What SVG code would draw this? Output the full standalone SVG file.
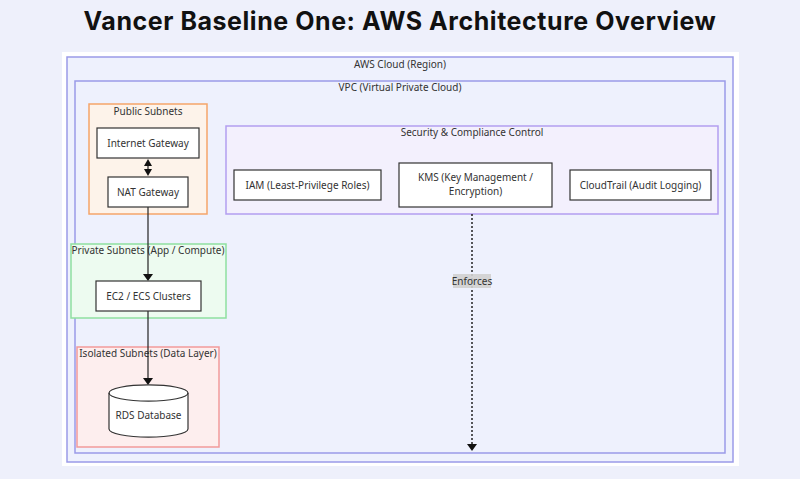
<svg xmlns="http://www.w3.org/2000/svg" width="800" height="479" viewBox="0 0 800 479">
<defs>
<style>
.title{font-family:Inter,"Liberation Sans",sans-serif;font-weight:700;font-size:25px;letter-spacing:0.55px;fill:#111;text-anchor:middle}
.lbl{font-family:"Noto Sans","DejaVu Sans",sans-serif;font-size:10px;fill:#333;text-anchor:middle}
.box{fill:#fff;stroke:#333;stroke-width:1.2}
.edge{fill:none;stroke:#222;stroke-width:1.2}
</style>
</defs>
<rect width="800" height="479" fill="#eef0fb"/>
<rect x="62" y="52" width="677" height="414" fill="#fff"/>
<g id="aws-cloud">
<rect x="67" y="57" width="666" height="405" fill="#eef1fd" stroke="#9a9ae8" stroke-width="1.5"/>
<text class="lbl" x="400" y="68">AWS Cloud (Region)</text>
</g>
<g id="vpc">
<rect x="75" y="81" width="650" height="372" fill="#eef1fd" stroke="#9a9ae8" stroke-width="1.5"/>
<text class="lbl" x="400" y="91">VPC (Virtual Private Cloud)</text>
</g>
<g id="public-subnets">
<rect x="89" y="104" width="118" height="110" fill="#fdf3ea" stroke="#f5a56a" stroke-width="1.5"/>
<text class="lbl" x="148" y="115">Public Subnets</text>
</g>
<g id="security">
<rect x="226" y="126" width="492" height="88" fill="#f3f0fd" stroke="#b39ef0" stroke-width="1.5"/>
<text class="lbl" x="472" y="136">Security &amp; Compliance Control</text>
</g>
<g id="private-subnets">
<rect x="71" y="244" width="155" height="74" fill="#edfbf0" stroke="#8ee0a0" stroke-width="1.5"/>
<text class="lbl" x="148" y="254">Private Subnets (App / Compute)</text>
</g>
<g id="isolated-subnets">
<rect x="77" y="347" width="142" height="100" fill="#fdeeee" stroke="#f29a9a" stroke-width="1.5"/>
<text class="lbl" x="148" y="357">Isolated Subnets (Data Layer)</text>
</g>
<g id="connectors">
<line class="edge" x1="148" y1="163" x2="148" y2="172"/>
<path d="M144,166 L148,159 L152,166 z" fill="#111"/>
<path d="M144,169 L148,176 L152,169 z" fill="#111"/>
<line class="edge" x1="148" y1="207" x2="148" y2="276"/>
<path d="M143,274 L148,281 L153,274 z" fill="#111"/>
<line class="edge" x1="148" y1="311" x2="148" y2="380"/>
<path d="M143,378 L148,385 L153,378 z" fill="#111"/>
<line x1="472" y1="214" x2="472" y2="444" stroke="#222" stroke-width="1.5" stroke-dasharray="2,2"/>
<path d="M467,444 L472,451 L477,444 z" fill="#111"/>
<rect x="453" y="274" width="38" height="14" fill="#d0d0d0" opacity="0.9"/>
<text class="lbl" x="472" y="284.5">Enforces</text>
</g>
<g id="internet-gateway">
<rect class="box" x="97" y="128" width="102" height="30"/>
<text class="lbl" x="148" y="146.5">Internet Gateway</text>
</g>
<g id="nat-gateway">
<rect class="box" x="108" y="177" width="80" height="30"/>
<text class="lbl" x="148" y="195.5">NAT Gateway</text>
</g>
<g id="ec2">
<rect class="box" x="96" y="281" width="105" height="30"/>
<text class="lbl" x="148.5" y="299.5">EC2 / ECS Clusters</text>
</g>
<g id="rds">
<path class="box" d="M109,393 A39,8 0 0 1 188,393 L188,429 A39,8 0 0 1 109,429 Z"/>
<path d="M109,393 A39,8 0 0 0 188,393" fill="none" stroke="#333" stroke-width="1.2"/>
<text class="lbl" x="148.5" y="419">RDS Database</text>
</g>
<g id="iam">
<rect class="box" x="234" y="170" width="147" height="30"/>
<text class="lbl" x="307.5" y="188.5">IAM (Least-Privilege Roles)</text>
</g>
<g id="kms">
<rect class="box" x="399" y="163" width="153" height="44"/>
<text class="lbl" x="475.5" y="181">KMS (Key Management /</text>
<text class="lbl" x="475.5" y="195">Encryption)</text>
</g>
<g id="cloudtrail">
<rect class="box" x="570" y="170" width="141" height="30"/>
<text class="lbl" x="640.5" y="188.5">CloudTrail (Audit Logging)</text>
</g>
<text class="title" x="400" y="30">Vancer Baseline One: AWS Architecture Overview</text>
</svg>
